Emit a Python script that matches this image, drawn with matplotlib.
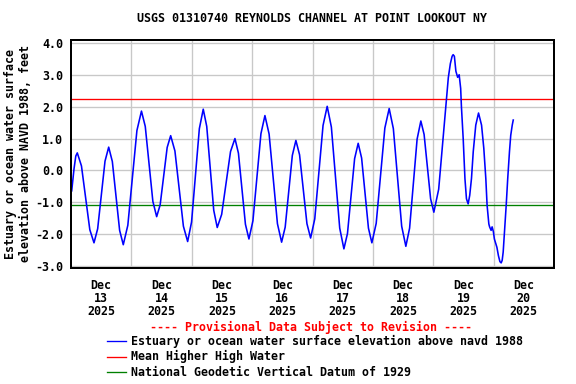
import matplotlib
matplotlib.use('Agg')

import numpy as np
from matplotlib import pyplot as plt
from matplotlib.lines import Line2D

# hours since 2025-12-13 00:00 and water level (ft above NAVD 1988)
hours = [0.28, 1.2, 1.9, 2.50, 4.16, 5.82, 7.48, 9.14, 10.60, 12.06, 13.52,
         14.98, 16.43, 17.88, 19.33, 20.78, 22.59, 24.40, 26.20, 28.01,
         29.52, 31.03, 32.54, 34.05, 35.44, 36.84, 38.23, 39.62, 41.31,
         43.00, 44.68, 46.37, 47.92, 49.47, 51.02, 52.57, 53.96, 55.35,
         56.74, 58.13, 59.89, 61.65, 63.41, 65.17, 66.56, 67.95, 69.34,
         70.73, 72.32, 73.91, 75.50, 77.09, 78.75, 80.41, 82.06, 83.72,
         85.14, 86.56, 87.98, 89.40, 90.86, 92.33, 93.79, 95.25, 96.90,
         98.55, 100.19, 101.84, 103.50, 105.16, 106.82, 108.48, 109.90,
         111.32, 112.74, 114.16, 115.52, 116.88, 118.24, 119.60, 121.32,
         123.04, 124.76, 126.48, 128.14, 129.80, 131.45, 133.11, 134.60,
         136.09, 137.58, 139.07, 140.36, 141.66, 142.95, 144.24, 146.16,
         148.08, 149.99, 150.8, 151.5, 151.91, 152.4, 153.0, 153.7, 154.3,
         154.9, 155.2, 155.9, 156.6, 157.2, 157.87, 158.5, 159.2, 159.9,
         160.9, 162.0, 163.2, 164.1, 164.9, 165.4, 166.1, 166.4, 167.0,
         167.4, 167.9, 168.3, 169.3, 169.9, 170.5, 171.0, 171.4, 171.8,
         172.4, 173.0, 173.6, 174.3, 174.8, 175.4, 175.8]
level = [-0.64, 0.05, 0.45, 0.55, 0.14, -0.86, -1.86, -2.27, -1.83, -0.77,
         0.29, 0.73, 0.28, -0.80, -1.88, -2.33, -1.72, -0.24, 1.25, 1.86,
         1.38, 0.20, -0.97, -1.45, -1.08, -0.18, 0.72, 1.09, 0.61, -0.57,
         -1.75, -2.23, -1.62, -0.16, 1.31, 1.92, 1.38, 0.07, -1.25, -1.79,
         -1.38, -0.40, 0.59, 1.00, 0.54, -0.58, -1.69, -2.15, -1.58, -0.22,
         1.15, 1.72, 1.14, -0.27, -1.67, -2.25, -1.78, -0.66, 0.47, 0.94,
         0.49, -0.59, -1.67, -2.12, -1.52, -0.06, 1.41, 2.01, 1.36, -0.23,
         -1.81, -2.46, -1.98, -0.81, 0.37, 0.85, 0.39, -0.71, -1.81, -2.27,
         -1.66, -0.17, 1.33, 1.94, 1.31, -0.22, -1.75, -2.38, -1.81, -0.42,
         0.98, 1.55, 1.13, 0.12, -0.89, -1.31, -0.59, 1.16, 2.91, 3.35,
         3.58, 3.63, 3.58, 3.11, 2.92, 3.00, 2.57, 2.00, 1.00, -0.26, -0.89,
         -1.05, -0.78, -0.25, 0.59, 1.42, 1.80, 1.42, 0.69, -0.26, -1.09,
         -1.68, -1.77, -1.88, -1.77, -1.92, -2.15, -2.41, -2.67, -2.86,
         -2.90, -2.82, -2.56, -1.82, -1.09, -0.26, 0.59, 1.10, 1.42, 1.58]

mhhw = 2.23
ngvd = -1.09
day_labels = ['Dec\n13\n2025', 'Dec\n14\n2025', 'Dec\n15\n2025', 'Dec\n16\n2025',
              'Dec\n17\n2025', 'Dec\n18\n2025', 'Dec\n19\n2025', 'Dec\n20\n2025']

plt.rcParams['font.family'] = 'DejaVu Sans Mono'
plt.rcParams['font.weight'] = 'bold'
fs = 8.7

fig = plt.figure(figsize=(6, 4), dpi=96)
ax = fig.add_axes([71/576, 1-268/384, (554-71)/576, (268-40)/384])

ax.set_xlim(0, 192)
ax.set_ylim(-3.06, 4.09)
ax.set_yticks(np.arange(-3, 4.5, 1.0))
ax.set_yticklabels(['%.1f' % v for v in np.arange(-3, 4.5, 1.0)], fontsize=fs, fontweight='bold')
ax.set_xticks(np.arange(12, 192, 24))
ax.set_xticklabels(day_labels, fontsize=fs, fontweight='bold', linespacing=1.0)
ax.set_xticks(np.arange(24, 192, 24), minor=True)
ax.tick_params(length=0, which='both')
ax.tick_params(axis='x', pad=8)
ax.tick_params(axis='y', pad=6)
ax.grid(True, axis='y', color='#c8c8c8', lw=1)
ax.grid(True, axis='x', which='minor', color='#c8c8c8', lw=1)
for s in ax.spines.values():
    s.set_linewidth(1.5)

ax.axhline(mhhw, color='#ff0000', lw=1)
ax.axhline(ngvd, color='#008000', lw=1)
ax.plot(hours, level, color='#0000ff', lw=1.2)

fig.text(312/576, 1-19/384, 'USGS 01310740 REYNOLDS CHANNEL AT POINT LOOKOUT NY',
         ha='center', va='center', fontsize=fs, fontweight='bold')
fig.text(18/576, 1-154/384, 'Estuary or ocean water surface\nelevation above NAVD 1988, feet',
         ha='center', va='center', rotation=90, fontsize=fs, fontweight='bold', linespacing=1.15)

fig.text(311/576, 1-327/384, '---- Provisional Data Subject to Revision ----',
         ha='center', va='center', fontsize=fs, fontweight='bold', color='#ff0000')
legend_rows = [('#0000ff', 'Estuary or ocean water surface elevation above navd 1988', 341),
               ('#ff0000', 'Mean Higher High Water', 356.5),
               ('#008000', 'National Geodetic Vertical Datum of 1929', 372)]
for col, txt, yy in legend_rows:
    fig.add_artist(Line2D([107/576, 126/576], [1-yy/384, 1-yy/384], color=col, lw=1))
    fig.text(131/576, 1-yy/384, txt, ha='left', va='center', fontsize=fs, fontweight='bold')

plt.savefig('out.png', dpi=96)
